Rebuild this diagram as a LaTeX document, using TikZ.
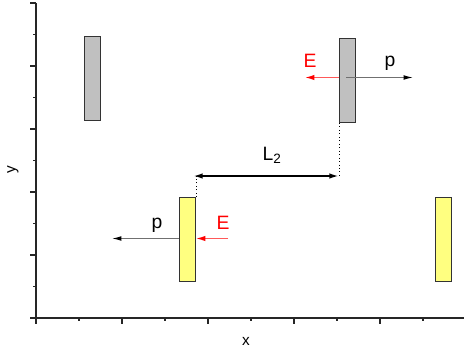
\documentclass[tikz,border=0pt]{standalone}
\usepackage{fontspec}
\setmainfont{Liberation Sans}
\usetikzlibrary{arrows.meta}
\definecolor{plategray}{HTML}{C0C0C0}
\definecolor{plateyellow}{HTML}{FFFF80}
\definecolor{pgray}{HTML}{707070}
\definecolor{ered}{HTML}{FF3030}
\begin{document}
\begin{tikzpicture}[x=0.75pt,y=-0.75pt,
  plate/.style={draw=black!80,line width=0.7pt,minimum width=12pt,minimum height=63pt,inner sep=0pt,anchor=north west},
  graybox/.style={plate,fill=plategray},
  yellowbox/.style={plate,fill=plateyellow},
  axis/.style={line width=1.1pt,black!85},
  tk/.style={line width=0.9pt,black!85},
  parrow/.style={draw=pgray,line width=0.8pt,-{Latex[length=7pt,width=3.5pt,color=black]}},
  earrow/.style={draw=ered!80,line width=1pt,-{Latex[length=7pt,width=4pt,color=red]}},
  lbl/.style={font=\fontsize{14.5}{16}\selectfont,inner sep=0pt},
  axlbl/.style={font=\fontsize{11.5}{13}\selectfont,inner sep=0pt}]
\useasboundingbox (0,0) rectangle (464,354);
% axes
\coordinate (o) at (36,318);
\coordinate (ytop) at (36,3);
\coordinate (xend) at (464,318);
\draw[axis] (ytop) -- (o) -- (xend);
\foreach \yy in {3,66,129,192,255,318} \draw[tk] (30,\yy) -- (36,\yy);
\foreach \yy in {34.5,97.5,160.5,223.5,286.5} \draw[tk] (33,\yy) -- (36,\yy);
\foreach \xx in {36,122,208,294,380} \draw[tk] (\xx,318) -- (\xx,324);
\foreach \xx in {79,165,251,337,423} \draw[tk] (\xx,318) -- (\xx,321);
\node[axlbl,rotate=90] (ylab) at (13,170) {y};
\node[axlbl] (xlab) at (246,341) {x};
% plates
\node[graybox] (g1) at (84,36) {};
\node[graybox] (g2) at (339,38) {};
\node[yellowbox] (y1) at (179,197) {};
\node[yellowbox] (y2) at (435,197) {};
% upper right arrows
\coordinate (g2e) at (305,77.5);
\coordinate (g2p) at (413,77.5);
\coordinate (g2s) at (346,77.5);
\draw[earrow] (g2.west |- g2e) -- (g2e);
\draw[parrow] (g2s) -- (g2p);
\node[lbl,text=red] (E1) at (310,61) {E};
\node[lbl] (p1) at (390,63) {p};
% lower left arrows
\coordinate (y1p) at (112,238.5);
\coordinate (y1e) at (228,238.5);
\draw[parrow] (y1.west |- y1p) -- (y1p);
\draw[earrow] (y1e) -- (y1.east |- y1e);
\node[lbl,text=red] (E2) at (223,223) {E};
\node[lbl] (p2) at (157,225) {p};
% L2
\coordinate (la) at (192,176);
\coordinate (lb) at (340,176);
\draw[dotted,line width=0.6pt] (g2.south west) -- (g2.south west |- lb);
\draw[dotted,line width=0.6pt] (y1.north east) -- (y1.north east |- la);
\draw[line width=1.6pt,{Latex[length=8pt,width=4pt]}-{Latex[length=8pt,width=4pt]}] (la) -- (lb);
\node[lbl] (L2) at (272,155) {L\textsubscript{2}};
\end{tikzpicture}
\end{document}
